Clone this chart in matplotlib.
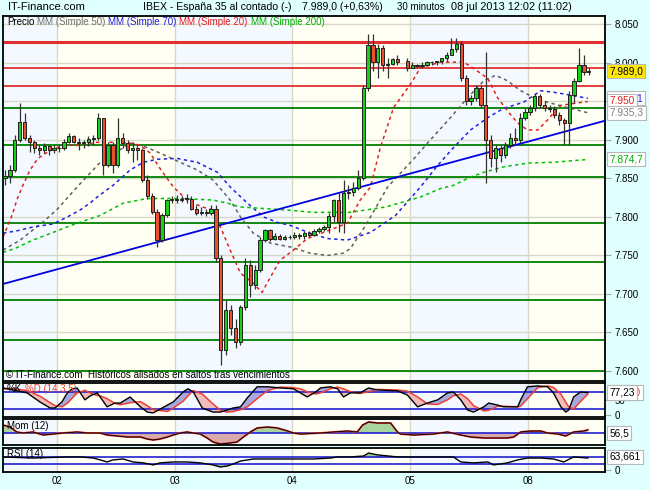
import numpy as np
import matplotlib
matplotlib.use("Agg")
import matplotlib.pyplot as plt
import matplotlib.transforms as mtransforms

plt.rcParams['font.family'] = ['Liberation Sans', 'DejaVu Sans']

# IBEX 35, 30 min bars, 1 jul (partial) .. 8 jul 2013 12:00 (index points)
nan = np.nan
opens = [7850, 7853, 7861, 7900, 7923, 7903, 7897, 7889, 7887, 7892,
         7887, 7889, 7890, 7898, 7905, 7898, 7896, 7897, 7901, 7903,
         7928, 7867, 7893, 7867, 7903, 7896, 7887, 7890, 7887, 7848,
         7827, 7806, 7770, 7802, 7822, 7823, 7822, 7824, 7823, 7811,
         7805, 7807, 7805, 7810, 7747, 7627, 7679, 7656, 7638, 7683,
         7737, 7712, 7731, 7770, 7783, 7772, 7775, 7772, 7774, 7774,
         7776, 7775, 7779, 7776, 7782, 7784, 7787, 7801, 7822, 7793,
         7831, 7832, 7837, 7850, 7967, 8023, 8001, 8019, 7998, 7999,
         8005, nan, 8002, 7994, 7997, 7996, 7998, 8001, 8001, 8002,
         8006, 8011, 8018, 8024, 7980, 7951, 7954, 7967, 7945, 7900,
         7876, 7889, 7880, 7893, 7903, 7900, 7929, 7936, 7941, 7957,
         7945, 7942, 7940, 7933, 7926, 7922, 7958, 7977, 7997, 7988]
highs = [7861, 7867, 7906, 7948, 7935, 7906, 7900, 7894, 7896, 7894,
         7893, 7894, 7901, 7909, 7907, 7902, 7900, 7905, 7906, 7935,
         7929, 7897, 7898, 7929, 7909, 7900, 7896, 7894, 7889, 7854,
         7831, 7811, 7805, 7824, 7827, 7828, 7827, 7830, 7827, 7815,
         7813, 7811, 7815, 7815, 7751, 7692, 7686, 7667, 7686, 7747,
         7744, 7737, 7774, 7785, 7785, 7779, 7778, 7776, 7776, 7780,
         7779, 7782, 7782, 7784, 7787, 7789, 7805, 7824, 7831, 7848,
         7841, 7845, 7861, 7971, 8038, 8038, 8025, 8023, 8006, 8007,
         8010, nan, 8006, 8001, 7999, 8001, 8002, 8003, 8003, 8007,
         8014, 8033, 8033, 8029, 7984, 7958, 7971, 7971, 8014, 7906,
         7893, 7894, 7897, 7909, 7915, 7935, 7941, 7945, 7960, 7960,
         7951, 7946, 7944, 7936, 7929, 7964, 7980, 8020, 8010, 7993]
lows = [7841, 7844, 7858, 7897, 7900, 7884, 7883, 7880, 7883, 7880,
        7883, 7884, 7887, 7896, 7896, 7887, 7889, 7892, 7893, 7900,
        7854, 7865, 7857, 7865, 7890, 7883, 7871, 7874, 7845, 7824,
        7804, 7761, 7767, 7800, 7818, 7818, 7819, 7818, 7809, 7802,
        7802, 7801, 7802, 7741, 7608, 7621, 7647, 7630, 7634, 7679,
        7696, 7706, 7728, 7767, 7769, 7770, 7770, 7770, 7771, 7771,
        7772, 7772, 7774, 7775, 7779, 7782, 7779, 7793, 7780, 7779,
        7824, 7827, 7835, 7848, 7964, 7990, 7980, 7990, 7981, 7997,
        7998, nan, 7990, 7993, 7993, 7994, 7996, 7998, 7998, 7999,
        8003, 8010, 8014, 7977, 7945, 7945, 7951, 7941, 7844, 7865,
        7858, 7871, 7876, 7889, 7893, 7896, 7926, 7932, 7938, 7941,
        7938, 7936, 7929, 7919, 7893, 7893, 7948, 7975, 7984, 7985]
closes = [7853, 7861, 7900, 7923, 7903, 7897, 7889, 7887, 7892, 7887,
          7889, 7890, 7898, 7905, 7898, 7896, 7897, 7901, 7903, 7928,
          7867, 7893, 7867, 7903, 7896, 7887, 7890, 7887, 7848, 7827,
          7806, 7770, 7802, 7822, 7823, 7822, 7824, 7823, 7811, 7805,
          7807, 7805, 7810, 7747, 7627, 7679, 7656, 7638, 7683, 7737,
          7712, 7731, 7770, 7783, 7772, 7775, 7772, 7774, 7774, 7776,
          7775, 7779, 7776, 7782, 7784, 7787, 7801, 7822, 7793, 7831,
          7832, 7837, 7850, 7967, 8023, 8001, 8019, 7998, 7999, 8005,
          8001, nan, 7994, 7997, 7996, 7998, 8001, 8001, 8002, 8006,
          8011, 8018, 8024, 7980, 7951, 7954, 7967, 7945, 7900, 7876,
          7889, 7880, 7893, 7903, 7900, 7929, 7936, 7941, 7957, 7945,
          7942, 7940, 7933, 7926, 7922, 7958, 7977, 7997, 7988, 7989]

# moving averages (bar index, value)
ma50_x = [-0.4, 3.1, 8.2, 10.8, 14.7, 16.9, 19.4, 22.4, 26.1, 29.0,
          31.6, 35.7, 39.2, 42.4, 45.9, 48.0, 50.6, 54.1, 58.2, 62.2,
          65.7, 69.0, 70.4, 73.5, 78.0, 83.1, 86.7, 90.8, 94.3, 97.6,
          100.0, 102.4, 105.1, 107.8, 110.6, 112.9, 118.8]
ma50 = [7757, 7770, 7796, 7811, 7839, 7854, 7871, 7884, 7896, 7890,
        7883, 7871, 7861, 7848, 7822, 7800, 7779, 7766, 7761, 7753,
        7750, 7753, 7759, 7789, 7839, 7874, 7900, 7929, 7955, 7977,
        7984, 7977, 7964, 7955, 7949, 7945, 7935.3]
ma70_x = [-0.4, 2.4, 5.7, 9.8, 12.7, 15.3, 17.3, 18.8, 22.0, 25.5,
          28.2, 31.0, 35.1, 39.2, 43.3, 45.9, 49.4, 52.7, 55.5, 58.2,
          62.2, 65.7, 69.8, 74.5, 79.6, 84.7, 88.2, 91.4, 94.9, 98.4,
          101.6, 105.7, 109.2, 111.8, 113.7, 118.8]
ma70 = [7779, 7782, 7787, 7791, 7800, 7809, 7818, 7826, 7841, 7861,
        7871, 7875, 7876, 7871, 7858, 7839, 7818, 7800, 7793, 7789,
        7779, 7772, 7770, 7780, 7802, 7839, 7867, 7890, 7913, 7929,
        7941, 7949, 7964, 7962, 7960, 7954.1]
ma20_x = [-0.4, 0.6, 1.6, 2.4, 3.5, 5.1, 6.7, 8.6, 10.2, 11.8,
          15.3, 18.8, 22.0, 25.5, 27.6, 29.6, 31.6, 34.3, 37.1, 40.2,
          42.4, 43.9, 45.9, 48.0, 50.6, 52.4, 54.1, 56.1, 58.8, 61.6,
          64.9, 67.8, 69.8, 72.4, 74.5, 76.5, 79.2, 82.7, 84.7, 88.8,
          93.5, 95.5, 98.4, 100.4, 102.4, 104.5, 106.5, 108.6, 110.6, 111.8,
          113.3, 118.8]
ma20 = [7774, 7789, 7805, 7822, 7839, 7861, 7876, 7884, 7889, 7893,
        7893, 7897, 7897, 7896, 7893, 7883, 7863, 7839, 7822, 7813,
        7809, 7787, 7757, 7727, 7714, 7702, 7722, 7744, 7757, 7772,
        7780, 7787, 7792, 7822, 7839, 7890, 7942, 7973, 7994, 8001,
        8001, 7993, 7980, 7955, 7938, 7922, 7913, 7913, 7926, 7935,
        7945, 7950]
ma200_x = [-0.4, 2.0, 5.7, 9.8, 14.7, 19.4, 24.1, 29.0, 35.7, 42.4,
           45.3, 48.0, 52.7, 57.6, 62.9, 70.4, 77.6, 84.7, 88.8, 91.4,
           94.9, 97.6, 101.6, 106.5, 111.8, 118.8]
ma200 = [7754, 7759, 7770, 7780, 7792, 7802, 7818, 7824, 7824, 7822,
         7818, 7813, 7811, 7809, 7806, 7806, 7813, 7826, 7837, 7841,
         7852, 7858, 7865, 7870, 7871, 7874.7]

red_levels = [8027, 7994, 7970]
green_levels = [7941, 7893, 7852, 7792, 7741, 7692, 7640, 7600]
trend_x = [-0.4, 122.3]
trend_y = [7713, 7925]

# stochastic %K %D (14,3,5)
stoch_x = [-0.4, 1.6, 4.5, 7.1, 9.2, 10.2, 11.6, 12.7, 13.7, 14.7,
           16.3, 17.3, 18.8, 19.4, 20.8, 22.4, 23.5, 25.5, 27.6, 29.0,
           30.2, 33.1, 34.3, 36.3, 37.3, 38.4, 40.2, 42.4, 43.9, 45.3,
           46.5, 48.0, 49.4, 51.4, 53.5, 56.1, 58.8, 60.2, 61.6, 63.3,
           64.3, 66.3, 67.8, 69.0, 70.4, 72.4, 74.1, 75.9, 80.0, 82.0,
           84.1, 86.1, 88.2, 90.2, 91.4, 92.9, 94.3, 95.5, 97.6, 98.6,
           100.4, 101.6, 104.5, 105.1, 106.5, 108.6, 110.6, 111.8, 113.3, 114.3,
           114.9, 115.9, 117.3, 118.8]
stoch_k = [93, 86, 76, 45, 24, 24, 45, 76, 90, 93,
           52, 65, 76, 62, 28, 41, 41, 62, 28, 10,
           7, 34, 45, 79, 90, 79, 24, 10, 10, 17,
           24, 28, 59, 97, 97, 93, 90, 76, 62, 79,
           93, 97, 90, 62, 76, 76, 93, 86, 83, 69,
           28, 41, 52, 76, 79, 52, 17, 10, 28, 41,
           34, 28, 28, 52, 97, 100, 97, 76, 28, 10,
           17, 62, 79, 77]
stoch_d = [90, 91, 84, 65, 42, 32, 28, 40, 58, 76,
           85, 76, 67, 66, 56, 40, 35, 42, 46, 32,
           18, 12, 24, 47, 66, 84, 72, 38, 16, 10,
           12, 18, 28, 56, 84, 96, 94, 90, 80, 72,
           76, 90, 96, 90, 80, 74, 80, 88, 86, 82,
           62, 38, 36, 52, 66, 72, 56, 32, 14, 16,
           30, 30, 28, 30, 56, 94, 100, 95, 72, 44,
           28, 20, 46, 72]

# momentum (12)
mom_x = [-0.4, 1.0, 2.4, 3.7, 5.7, 7.8, 9.8, 11.8, 14.7, 16.7,
         19.4, 20.8, 22.9, 24.9, 27.6, 29.0, 30.2, 31.6, 33.1, 34.3,
         35.7, 37.1, 38.4, 39.8, 41.2, 42.4, 43.9, 45.9, 47.3, 48.6,
         50.0, 51.4, 53.5, 55.5, 57.6, 58.8, 60.2, 64.3, 66.9, 69.8,
         71.8, 72.9, 74.1, 75.9, 78.6, 80.0, 80.6, 83.3, 87.3, 90.2,
         92.9, 94.9, 97.6, 99.6, 102.4, 103.7, 105.1, 107.1, 109.2, 110.6,
         112.7, 114.3, 115.9, 118.0, 118.8]
mom = [144, 108, 18, 0, 18, -36, -18, 0, 18, 0,
       0, -36, -54, -72, -72, -108, -126, -108, -72, -36,
       0, 18, 0, -18, -90, -162, -198, -180, -162, -72,
       18, 90, 108, 90, 36, 0, -18, 0, 18, 36,
       18, 144, 198, 180, 180, 18, -18, -36, -18, 18,
       -36, -72, -90, -90, -90, -72, 18, 36, 36, 0,
       -18, -54, 18, 36, 56]

# RSI (14)
rsi_x = [-0.4, 5.7, 12.7, 15.3, 18.0, 19.4, 20.8, 22.0, 24.1, 26.1,
         28.2, 30.2, 31.6, 34.3, 37.1, 39.8, 42.4, 43.9, 45.3, 46.5,
         48.0, 50.6, 53.5, 56.1, 58.8, 62.9, 66.3, 67.8, 70.4, 73.1,
         74.1, 75.9, 80.0, 84.7, 91.4, 92.9, 95.5, 98.4, 99.6, 102.4,
         104.5, 106.5, 109.2, 111.8, 113.9, 115.9, 118.8]
rsi = [70, 64, 70, 70, 64, 54, 43, 54, 59, 43,
       38, 27, 38, 43, 43, 38, 27, 16, 21, 32,
       48, 59, 59, 59, 59, 59, 64, 70, 70, 75,
       91, 81, 70, 70, 70, 43, 38, 43, 27, 38,
       54, 64, 64, 59, 43, 70, 64]

# last values shown in the right-hand boxes
last_k, last_d, last_mom, last_rsi = 77.23, 75.82, 56.5, 63.661

day_pos = [10.6, 34.6, 58.6, 82.6, 106.6]
day_names = ['02', '03', '04', '05', '08']
shade_days = [(-1, 10.6), (34.6, 58.6), (82.6, 106.6)]

BG = '#E0FFFF'
CREAM = '#FFFFF4'
BLUISH = '#F3F9FF'
GRID = '#D8D8C8'
FS = 7


def es(v, dec):
    s = f"{v:,.{dec}f}"
    return s.replace(',', '_').replace('.', ',').replace('_', '.')


fig = plt.figure(figsize=(6.5, 4.9), dpi=100, facecolor=BG)


def px_axes(left, top, right, bottom):
    return fig.add_axes([left / 650, 1 - bottom / 490, (right - left) / 650, (bottom - top) / 490])


ax = px_axes(3, 16, 605, 381)
ax_st = px_axes(3, 383, 605, 417)
ax_mo = px_axes(3, 419, 605, 445)
ax_rs = px_axes(3, 448, 605, 472)

for a in (ax, ax_st, ax_mo, ax_rs):
    a.set_facecolor(CREAM)
    a.set_xlim(-0.41, 122.3)
    for s0, s1 in shade_days:
        a.axvspan(s0, s1, color=BLUISH, lw=0, zorder=0)
    a.set_axisbelow(True)
    a.set_xticks(day_pos)
    a.grid(axis='x', color=GRID, lw=1)
    a.tick_params(axis='x', length=0, labelbottom=False)
    a.yaxis.tick_right()
    a.tick_params(axis='y', length=4, color='#A8A8A8', labelsize=FS, pad=3)
    for sp in a.spines.values():
        sp.set_color('black')
        sp.set_linewidth(1.3)


def tag(a, y, s, fg, bg='white', z=6):
    tr = mtransforms.blended_transform_factory(a.transAxes, a.transData)
    a.text(1.0075, y, s, transform=tr, ha='left', va='center', fontsize=FS + 0.3, color=fg,
           zorder=z, clip_on=False,
           bbox=dict(boxstyle='square,pad=0.2', fc=bg, ec='#B8B8B8', lw=0.8))


# ---- price panel
ax.set_ylim(7587, 8061)
yt = np.arange(7600, 8051, 50)
ax.set_yticks(yt)
ax.set_yticklabels([es(v, 0) for v in yt])
ax.grid(axis='y', color=GRID, lw=1)

for v in red_levels:
    ax.axhline(v, color='#E03030', lw=2.2 if v == red_levels[0] else 1.3, zorder=1.5)
for v in green_levels:
    ax.axhline(v, color='#008000', lw=1.3, zorder=1.5)

ax.plot(ma50_x, ma50, color='#606060', lw=1.1, dashes=(2.2, 2.2), zorder=2.5)
ax.plot(ma70_x, ma70, color='#2020E0', lw=1.1, dashes=(2.2, 2.2), zorder=2.5)
ax.plot(ma20_x, ma20, color='#E02020', lw=1.1, dashes=(2.2, 2.2), zorder=2.5)
ax.plot(ma200_x, ma200, color='#00C000', lw=1.1, dashes=(2.2, 2.2), zorder=2.5)
ax.plot(trend_x, trend_y, color='#0000E0', lw=1.3, zorder=2.6)

o = np.array(opens, float)
h = np.array(highs, float)
lo = np.array(lows, float)
c = np.array(closes, float)
xb = np.arange(len(c))
ok = ~np.isnan(c)
up = ok & (c >= o)
dn = ok & (c < o)
ax.vlines(xb[ok], lo[ok], h[ok], color='#333333', lw=0.9, zorder=3)
ax.bar(xb[up], (c - o)[up], bottom=o[up], width=0.66, color='#18D018',
       edgecolor='#202020', lw=0.7, zorder=4)
ax.bar(xb[dn], (o - c)[dn], bottom=c[dn], width=0.66, color='#E85030',
       edgecolor='#202020', lw=0.7, zorder=4)

# legend line at the top of the panel
t = ax.text(4 / 602, 1 - 6 / 365, 'Precio', transform=ax.transAxes, va='center',
            ha='left', fontsize=FS, color='black', zorder=7)
for label, col in [('MM (Simple 50)', '#707070'), ('MM (Simple 70)', '#2020E0'),
                   ('MM (Simple 20)', '#E02020'), ('MM (Simple 200)', '#00B000')]:
    t = ax.annotate(label, xy=(1, 0.5), xycoords=t, xytext=(2.0, 0),
                    textcoords='offset points', va='center', ha='left',
                    fontsize=FS, color=col, zorder=7)

ax.text(3 / 602, 6 / 365, '\u00a9 IT-Finance.com  Históricos alisados en saltos tras vencimientos',
        transform=ax.transAxes, va='center', ha='left', fontsize=FS, color='black', zorder=7)

tag(ax, closes[-1], es(closes[-1], 1), 'black', bg='#FFE800', z=8)
tag(ax, ma70[-1], es(ma70[-1], 1), '#2020E0', z=6)
tag(ax, ma20[-1], es(ma20[-1], 0), '#E02020', z=7)
tag(ax, ma50[-1], es(ma50[-1], 1), '#808080', z=7)
tag(ax, ma200[-1], es(ma200[-1], 1), '#00B000', z=7)

# ---- stochastic panel
ax_st.set_ylim(-7, 110)
ax_st.set_yticks([0, 50])
ax_st.set_yticklabels(['0', '50'])
k = np.array(stoch_k, float)
d = np.array(stoch_d, float)
ax_st.fill_between(stoch_x, k, d, where=k >= d, interpolate=True, color='#A8A8E0', lw=0, zorder=1)
ax_st.fill_between(stoch_x, k, d, where=k < d, interpolate=True, color='#F2BCBC', lw=0, zorder=1)
ax_st.axhline(80, color='#2020D0', lw=1.2, zorder=1.5)
ax_st.axhline(20, color='#2020D0', lw=1.2, zorder=1.5)
ax_st.plot(stoch_x, d, color='#F04030', lw=1.1, zorder=2)
ax_st.plot(stoch_x, k, color='black', lw=1.0, zorder=2.2)
t = ax_st.text(4 / 602, 1 - 6 / 34, '%K', transform=ax_st.transAxes, va='center',
               ha='left', fontsize=FS, color='black')
ax_st.annotate('%D (14,3,5)', xy=(1, 0.5), xycoords=t, xytext=(2, 0),
               textcoords='offset points', va='center', ha='left', fontsize=FS, color='#F04030')
tr = mtransforms.blended_transform_factory(ax_st.transAxes, ax_st.transData)
ax_st.text(1.0075, last_k, es(last_d, 3), transform=tr, ha='left', va='center',
           fontsize=FS + 0.3, color='#F04030', zorder=5, clip_on=False,
           bbox=dict(boxstyle='square,pad=0.2', fc='white', ec='#B8B8B8', lw=0.8))
tag(ax_st, last_k, es(last_k, 2), 'black', z=6)

# ---- momentum panel
ax_mo.set_ylim(-216, 252)
ax_mo.set_yticks([])
m = np.array(mom, float)
ax_mo.fill_between(mom_x, m, 0, where=m >= 0, interpolate=True, color='#A8D4A0', lw=0, zorder=1)
ax_mo.fill_between(mom_x, m, 0, where=m < 0, interpolate=True, color='#D8AAAA', lw=0, zorder=1)
ax_mo.axhline(0, color='#2020D0', lw=1.2, zorder=1.5)
ax_mo.plot(mom_x, m, color='#F04030', lw=1.4, zorder=2)
ax_mo.plot(mom_x, m, color='black', lw=0.7, zorder=2.2)
ax_mo.text(4 / 602, 1 - 7 / 26, 'Mom (12)', transform=ax_mo.transAxes, va='center',
           ha='left', fontsize=FS, color='black')
tag(ax_mo, 0, es(last_mom, 1), 'black')

# ---- RSI panel
ax_rs.set_ylim(-11, 118)
ax_rs.set_yticks([0])
ax_rs.set_yticklabels(['0'])
r = np.array(rsi, float)
ax_rs.fill_between(rsi_x, r, 70, where=r > 70, interpolate=True, color='#90D090', lw=0, zorder=1)
ax_rs.fill_between(rsi_x, r, 30, where=r < 30, interpolate=True, color='#90D090', lw=0, zorder=1)
ax_rs.axhline(70, color='#2020D0', lw=1.2, zorder=1.5)
ax_rs.axhline(30, color='#2020D0', lw=1.2, zorder=1.5)
ax_rs.plot(rsi_x, r, color='black', lw=1.0, zorder=2)
ax_rs.text(4 / 602, 1 - 6 / 24, 'RSI (14)', transform=ax_rs.transAxes, va='center',
           ha='left', fontsize=FS, color='black')
tag(ax_rs, 70, es(last_rsi, 3), 'black')
ax_rs.set_xticklabels(day_names)
ax_rs.tick_params(axis='x', labelbottom=True, labelsize=FS, pad=3)

# ---- header
hy = 1 - 7 / 490
fig.text(8 / 650, hy, 'IT-Finance.com', fontsize=8, va='center')
fig.text(143 / 650, hy, 'IBEX - España 35 al contado (-)', fontsize=7.6, va='center')
fig.text(302 / 650, hy, '7.989,0 (+0,63%)', fontsize=7.6, va='center')
fig.text(397 / 650, hy, '30 minutos', fontsize=7.0, va='center')
fig.text(451 / 650, hy, '08 jul 2013 12:02 (11:02)', fontsize=7.9, va='center')

fig.savefig('out.png', dpi=100, facecolor=BG)
